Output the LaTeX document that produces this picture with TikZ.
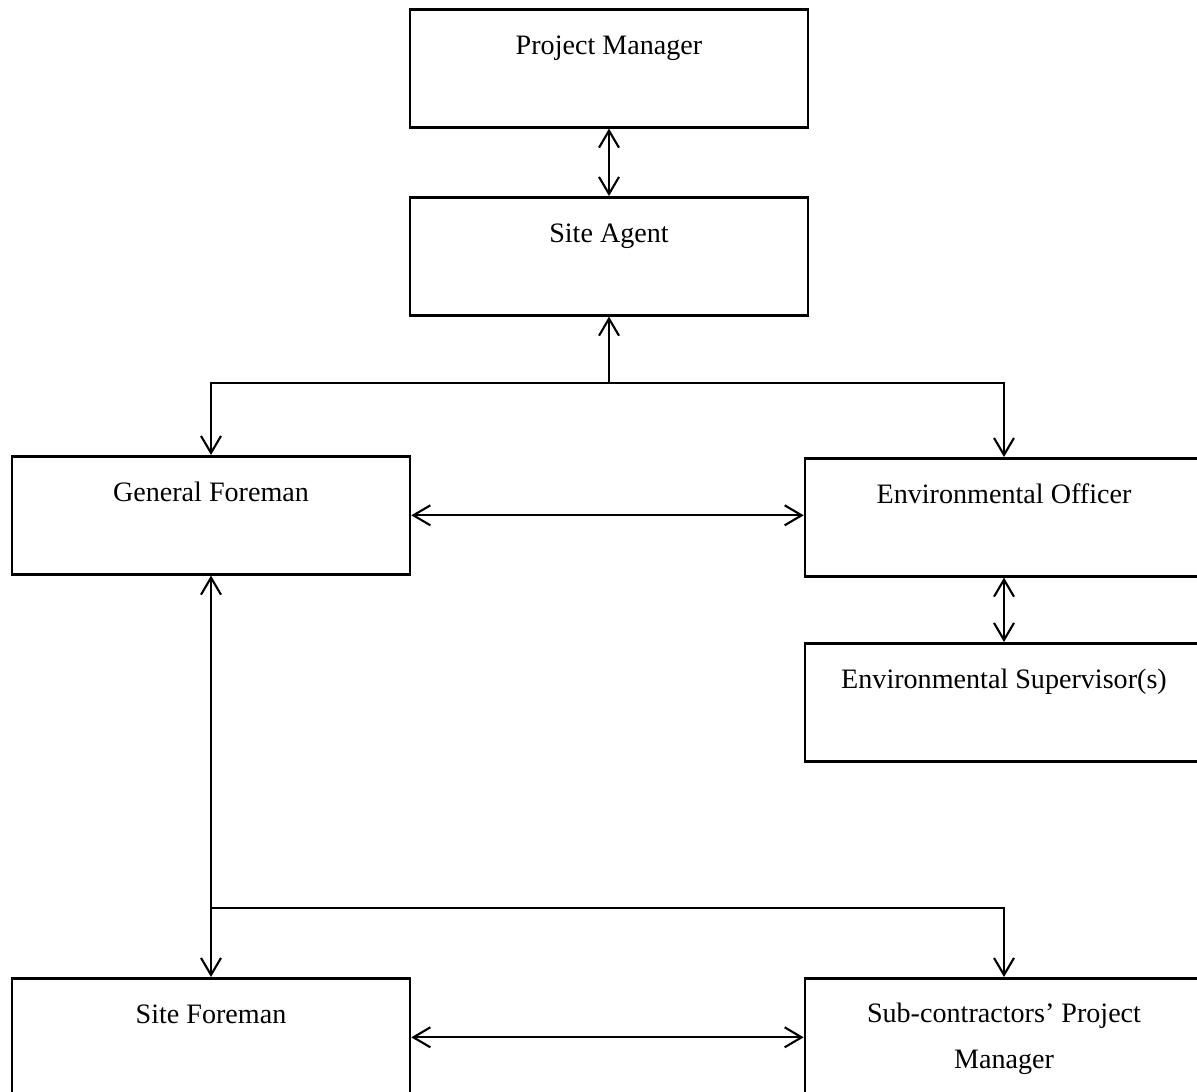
\documentclass[tikz,border=0pt]{standalone}
\usepackage{fontspec}
\setmainfont{Liberation Serif}
\usetikzlibrary{arrows.meta}

\begin{document}
\begin{tikzpicture}[x=0.02cm,y=-0.02cm,>={Straight Barb[length=3.4mm,width=4mm]},
    post/.style={draw,rectangle,anchor=north,line width=1.5pt,minimum width=7.96cm,
      inner sep=0pt,text height=0.90cm,text depth=1.46cm,
      font=\fontsize{16}{20}\selectfont},
    link/.style={line width=1.2pt}]
    \useasboundingbox (0,0) rectangle (1197,1092);
    \clip (0,0) rectangle (1197,1092);
    \fill[white] (0,0) rectangle (1197,1092);

    \node[post] (pm) at (609,8) {Project Manager};
    \node[post] (sa) at (609,196) {Site Agent};
    \node[post] (gf) at (211,455) {General Foreman};
    \node[post] (eo) at (1004,457) {Environmental Officer};
    \node[post] (es) at (1004,642) {Environmental Supervisor(s)};
    \node[post] (sf) at (211,977) {Site Foreman};
    \node[post,align=center,text height=1.80cm,text depth=0.56cm] (sc) at (1004,977)
      {Sub-contractors' Project\\[6pt]Manager};

    \coordinate (top fork) at (609,383);
    \coordinate (low fork) at (211,908);

    \draw[link,<->] (pm) -- (sa);
    \draw[link,->] (top fork) -- (sa);
    \draw[link,->] (top fork) -| (gf.north);
    \draw[link,->] (top fork) -| (eo.north);
    \draw[link,<->] (gf.east) -- (gf.east -| eo.west);
    \draw[link,<->] (eo) -- (es);
    \draw[link,<->] (gf) -- (sf);
    \draw[link,->] (low fork) -| (sc.north);
    \draw[link,<->] (sf.east) -- (sf.east -| sc.west);
\end{tikzpicture}
\end{document}
